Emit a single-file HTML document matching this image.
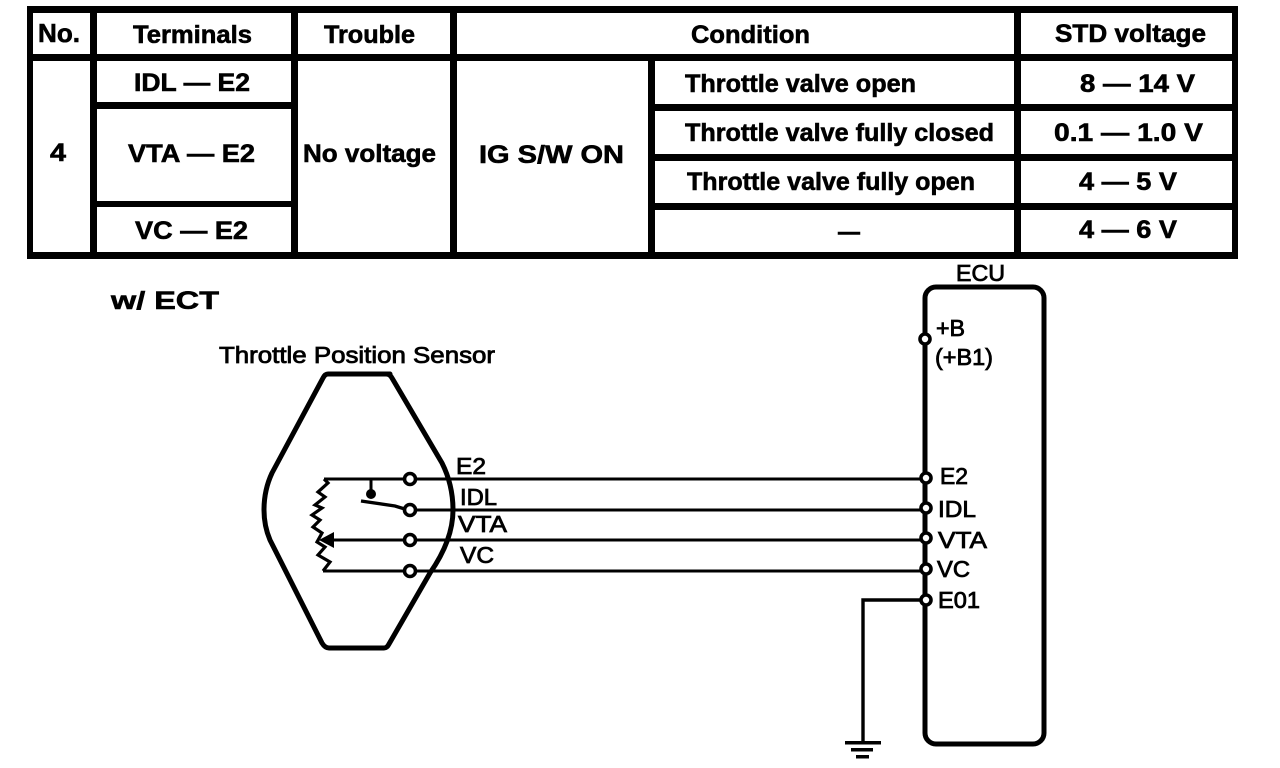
<!DOCTYPE html>
<html><head><meta charset="utf-8"><style>
html,body{margin:0;padding:0;background:#fff}
svg{display:block}
text{font-family:"Liberation Sans",sans-serif;fill:#000}
.b{font-weight:bold;font-size:25px;stroke:#000;stroke-width:.6}
.l{font-size:23px;stroke:#000;stroke-width:.8}
</style></head><body>
<svg width="1280" height="768" viewBox="0 0 1280 768" xmlns="http://www.w3.org/2000/svg">
<rect width="1280" height="768" fill="#fff"/>
<!-- table -->
<g fill="#000">
<rect x="27" y="6" width="1211" height="7"/>
<rect x="27" y="54" width="1211" height="7"/>
<rect x="27" y="252" width="1211" height="7"/>
<rect x="27" y="6" width="6" height="253"/>
<rect x="90" y="6" width="7" height="253"/>
<rect x="291" y="6" width="7" height="253"/>
<rect x="450" y="6" width="7" height="253"/>
<rect x="1014" y="6" width="7" height="253"/>
<rect x="1232" y="6" width="6" height="253"/>
<rect x="648" y="54" width="7" height="205"/>
<rect x="90" y="102" width="207" height="7"/>
<rect x="90" y="201" width="207" height="6"/>
<rect x="648" y="104" width="590" height="7"/>
<rect x="648" y="154" width="590" height="7"/>
<rect x="648" y="203" width="590" height="7"/>
</g>
<text class="b" x="38" y="42" style="font-size:26px" textLength="42" lengthAdjust="spacingAndGlyphs">No.</text>
<text class="b" x="133" y="43" textLength="119" lengthAdjust="spacingAndGlyphs">Terminals</text>
<text class="b" x="324" y="43" textLength="91" lengthAdjust="spacingAndGlyphs">Trouble</text>
<text class="b" x="691" y="43" textLength="119" lengthAdjust="spacingAndGlyphs">Condition</text>
<text class="b" x="1055" y="42" textLength="151" lengthAdjust="spacingAndGlyphs">STD voltage</text>
<text class="b" x="134" y="91" textLength="116" lengthAdjust="spacingAndGlyphs">IDL — E2</text>
<text class="b" x="128" y="162" textLength="127" lengthAdjust="spacingAndGlyphs">VTA — E2</text>
<text class="b" x="135" y="239" textLength="113" lengthAdjust="spacingAndGlyphs">VC — E2</text>
<text class="b" x="50" y="161" textLength="16" lengthAdjust="spacingAndGlyphs">4</text>
<text class="b" x="303" y="162" textLength="133" lengthAdjust="spacingAndGlyphs">No voltage</text>
<text class="b" x="479" y="163" textLength="145" lengthAdjust="spacingAndGlyphs">IG S/W ON</text>
<text class="b" x="685" y="92" textLength="231" lengthAdjust="spacingAndGlyphs">Throttle valve open</text>
<text class="b" x="685" y="141" textLength="309" lengthAdjust="spacingAndGlyphs">Throttle valve fully closed</text>
<text class="b" x="687" y="190" textLength="288" lengthAdjust="spacingAndGlyphs">Throttle valve fully open</text>
<text class="b" x="838" y="240" textLength="22" lengthAdjust="spacingAndGlyphs">—</text>
<text class="b" x="1080" y="92" textLength="115" lengthAdjust="spacingAndGlyphs">8 — 14 V</text>
<text class="b" x="1054" y="141" textLength="149" lengthAdjust="spacingAndGlyphs">0.1 — 1.0 V</text>
<text class="b" x="1079" y="190" textLength="98" lengthAdjust="spacingAndGlyphs">4 — 5 V</text>
<text class="b" x="1079" y="238" textLength="98" lengthAdjust="spacingAndGlyphs">4 — 6 V</text>
<text class="b" x="111" y="309" textLength="108" lengthAdjust="spacingAndGlyphs">w/ ECT</text>
<text class="l" x="219" y="363" textLength="276" lengthAdjust="spacingAndGlyphs">Throttle Position Sensor</text>
<!-- sensor body -->
<path d="M390 374 L328 374 Q325 374 323 378 L272 473 Q264 490 264 510 Q264 526 270 540 L322 643 Q325 648 329 648 L384 648 Q387 648 389 644 L430 573 Q453 540 453 510 Q453 485 442 463 L392 378 Q390 374 386 374 Z" fill="none" stroke="#000" stroke-width="5" stroke-linejoin="round"/>
<!-- wires -->
<g stroke="#000" stroke-width="3" fill="none">
<path d="M324 479H925"/>
<path d="M410 510H925"/>
<path d="M325 540H925"/>
<path d="M323 571H925"/>
<path d="M925 600H863V742" stroke-width="3.4"/>
<path d="M371 479V493"/>
<path d="M361 501L395 506L408 510" stroke-width="3.4"/>
<path d="M324 479L328 483L318 492L325 497L315 505L322 508L312 515L320 520L313 527L322 533L317 542L325 547L318 555L330 562L323 571" stroke-width="3.2"/>
</g>
<circle cx="371" cy="494" r="5" fill="#000"/>
<path d="M319 540L334 532V548Z" fill="#000"/>
<g fill="#fff" stroke="#000" stroke-width="3.6">
<circle cx="410" cy="479" r="5.5"/>
<circle cx="410" cy="510" r="5.5"/>
<circle cx="410" cy="540" r="5.5"/>
<circle cx="410" cy="571" r="5.5"/>
</g>
<text class="l" x="456" y="474" textLength="30" lengthAdjust="spacingAndGlyphs">E2</text>
<text class="l" x="460" y="505" textLength="37" lengthAdjust="spacingAndGlyphs">IDL</text>
<text class="l" x="458" y="532" textLength="49" lengthAdjust="spacingAndGlyphs">VTA</text>
<text class="l" x="460" y="563" textLength="34" lengthAdjust="spacingAndGlyphs">VC</text>
<!-- ECU -->
<rect x="925" y="287" width="119" height="457" rx="11" fill="#fff" stroke="#000" stroke-width="5"/>
<g fill="#fff" stroke="#000" stroke-width="3.6">
<circle cx="925" cy="339" r="5"/>
<circle cx="926" cy="478" r="5"/>
<circle cx="926" cy="508" r="5"/>
<circle cx="926" cy="538" r="5"/>
<circle cx="926" cy="569" r="5"/>
<circle cx="926" cy="600" r="5"/>
</g>
<text class="l" x="956" y="281" textLength="49" lengthAdjust="spacingAndGlyphs">ECU</text>
<text class="l" x="936" y="336" textLength="29" lengthAdjust="spacingAndGlyphs">+B</text>
<text class="l" x="935" y="365" textLength="58" lengthAdjust="spacingAndGlyphs">(+B1)</text>
<text class="l" x="940" y="484" textLength="28" lengthAdjust="spacingAndGlyphs">E2</text>
<text class="l" x="938" y="517" textLength="38" lengthAdjust="spacingAndGlyphs">IDL</text>
<text class="l" x="938" y="548" textLength="49" lengthAdjust="spacingAndGlyphs">VTA</text>
<text class="l" x="937" y="577" textLength="33" lengthAdjust="spacingAndGlyphs">VC</text>
<text class="l" x="938" y="608" textLength="42" lengthAdjust="spacingAndGlyphs">E01</text>
<!-- ground -->
<g fill="#000">
<rect x="845" y="741" width="36" height="3.5"/>
<rect x="851" y="748" width="22" height="3.5"/>
<rect x="856" y="755" width="13" height="3.5"/>
</g>
</svg>
</body></html>
